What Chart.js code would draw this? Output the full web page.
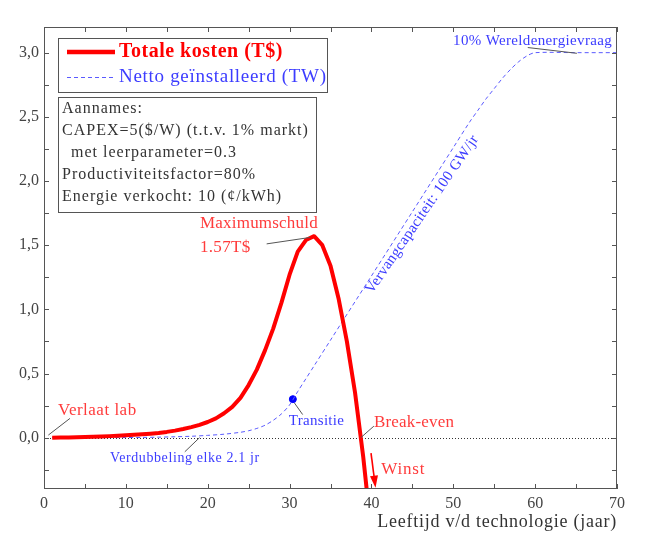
<!DOCTYPE html>
<html>
<head>
<meta charset="utf-8">
<script src="https://cdn.jsdelivr.net/npm/chart.js@4.4.1/dist/chart.umd.min.js"></script>
<style>
  html, body { margin: 0; padding: 0; background: #fff; }
  #wrap { width: 647px; height: 541px; }
</style>
</head>
<body>
<div id="wrap"><canvas id="grafiek" width="647" height="541"></canvas></div>
<script>
// totale kosten (T$) per jaar
const costYears  = [1, 2, 3, 4, 5, 6, 7, 8, 9, 10, 11, 12, 13, 14, 15, 16, 17, 18, 19, 20,
                    21, 22, 23, 24, 25, 26, 27, 28, 29, 30, 31, 32, 33, 34, 35, 36, 37, 38, 39, 40];
const costValues = [0, 0.001, 0.002, 0.003, 0.005, 0.007, 0.009, 0.012, 0.015, 0.018, 0.022, 0.026, 0.031, 0.037, 0.045, 0.055,
                    0.067, 0.082, 0.1, 0.122, 0.15, 0.19, 0.24, 0.31, 0.41, 0.53, 0.68, 0.85, 1.05, 1.27, 1.45, 1.54, 1.57,
                    1.5, 1.34, 1.08, 0.75, 0.35, -0.15, -0.75];

// netto geinstalleerd vermogen (TW)
const capYears  = [1, 5, 10, 12, 14, 16, 18, 20, 22, 24, 25, 26, 27, 28, 29, 30, 31, 32, 33, 35, 40, 45, 50, 52,
                   53, 54, 55, 56, 57, 58, 59, 60, 65, 70];
const capValues = [0, 0, 0.001, 0.002, 0.004, 0.007, 0.011, 0.018, 0.027, 0.042, 0.054, 0.072, 0.097, 0.135, 0.185,
                   0.255, 0.36, 0.46, 0.56, 0.76, 1.26, 1.76, 2.26, 2.46, 2.55, 2.64, 2.72, 2.8, 2.87, 2.93, 2.975, 3.0, 3.0, 3.0];

// transitiepunt
const transitionX = [30.4];
const transitionY = [0.30];

const xTickValues = [0, 10, 20, 30, 40, 50, 60, 70];
const yTickValues = [0, 0.5, 1, 1.5, 2, 2.5, 3];

const SERIF = '"Liberation Serif", "DejaVu Serif", serif';
const RED = '#ff0000';
const RED_TXT = '#ff3b3b';
const BLUE = '#5a5aff';
const BLUE_TXT = '#3c3cff';
const LEADER = '#555';

function toPoints(xs, ys) {
  return xs.map((x, i) => ({ x: x, y: ys[i] }));
}

const annotaties = {
  id: 'annotaties',
  beforeDatasetsDraw(chart) {
    const { ctx, chartArea: a, scales: { y } } = chart;
    ctx.save();
    // stippellijn op nul
    ctx.strokeStyle = '#333';
    ctx.lineWidth = 1;
    ctx.setLineDash([1, 2]);
    ctx.beginPath();
    ctx.moveTo(a.left, Math.round(y.getPixelForValue(0)) + 0.5);
    ctx.lineTo(a.right, Math.round(y.getPixelForValue(0)) + 0.5);
    ctx.stroke();
    ctx.restore();
  },
  afterDatasetsDraw(chart) {
    const { ctx, chartArea: a, scales: { x, y } } = chart;
    const px = v => x.getPixelForValue(v);
    const py = v => y.getPixelForValue(v);

    ctx.save();
    // kader en tickjes naar binnen
    ctx.strokeStyle = '#555';
    ctx.lineWidth = 1;
    ctx.strokeRect(a.left + 0.5, a.top + 0.5, a.right - a.left - 1, a.bottom - a.top - 1);
    ctx.beginPath();
    for (let v = 0; v <= 70; v += 5) {
      const xx = Math.round(px(v)) + 0.5;
      ctx.moveTo(xx, a.bottom); ctx.lineTo(xx, a.bottom - 5);
      ctx.moveTo(xx, a.top); ctx.lineTo(xx, a.top + 5);
    }
    for (let v = -0.25; v <= 3.2; v += 0.25) {
      const yy = Math.round(py(v)) + 0.5;
      ctx.moveTo(a.left, yy); ctx.lineTo(a.left + 5, yy);
      ctx.moveTo(a.right, yy); ctx.lineTo(a.right - 5, yy);
    }
    ctx.stroke();

    const line = (x1, y1, x2, y2) => {
      ctx.strokeStyle = LEADER;
      ctx.lineWidth = 1;
      ctx.beginPath();
      ctx.moveTo(px(x1), py(y1));
      ctx.lineTo(px(x2), py(y2));
      ctx.stroke();
    };
    const text = (s, xv, yv, color, size, spacing = 0, align = 'left') => {
      ctx.fillStyle = color;
      ctx.font = size + 'px ' + SERIF;
      ctx.letterSpacing = spacing + 'px';
      ctx.textAlign = align;
      ctx.textBaseline = 'middle';
      ctx.fillText(s, px(xv), py(yv));
      ctx.letterSpacing = '0px';
    };

    line(0.53, 0.02, 3.17, 0.15);
    text('Verlaat lab', 1.71, 0.21, RED_TXT, 17, 0.5);

    line(19.0, 0.0, 17.2, -0.11);
    text('Verdubbeling elke 2.1 jr', 8.06, -0.16, BLUE_TXT, 14, 0.6);

    line(30.6, 0.27, 31.6, 0.18);
    text('Transitie', 29.9, 0.13, BLUE_TXT, 15, 0.3);

    line(38.7, 0.0, 40.3, 0.09);
    text('Break-even', 40.3, 0.12, RED_TXT, 17, 0.2);

    line(27.2, 1.51, 32.5, 1.56);
    text('Maximumschuld', 19.06, 1.67, RED_TXT, 17, 0.2);
    text('1.57T$', 19.06, 1.48, RED_TXT, 17, 0.3);

    line(59.1, 3.04, 65.1, 2.995);
    text('10% Wereldenergievraag', 69.4, 3.09, BLUE_TXT, 15, 0.35, 'right');

    // winst-pijl
    ctx.strokeStyle = RED;
    ctx.fillStyle = RED;
    ctx.lineWidth = 1.6;
    const ax1 = px(39.95), ay1 = py(-0.12), ax2 = px(40.5), ay2 = py(-0.39);
    const ang = Math.atan2(ay2 - ay1, ax2 - ax1);
    ctx.beginPath();
    ctx.moveTo(ax1, ay1);
    ctx.lineTo(ax2 - 8 * Math.cos(ang), ay2 - 8 * Math.sin(ang));
    ctx.stroke();
    ctx.beginPath();
    ctx.moveTo(ax2, ay2);
    ctx.lineTo(ax2 - 12 * Math.cos(ang) + 4 * Math.sin(ang), ay2 - 12 * Math.sin(ang) - 4 * Math.cos(ang));
    ctx.lineTo(ax2 - 12 * Math.cos(ang) - 4 * Math.sin(ang), ay2 - 12 * Math.sin(ang) + 4 * Math.cos(ang));
    ctx.closePath();
    ctx.fill();
    text('Winst', 41.2, -0.25, RED_TXT, 17, 0.8);

    // schuine tekst langs de lijn
    ctx.save();
    ctx.translate(px(46.2), py(1.74));
    ctx.rotate(-55.5 * Math.PI / 180);
    ctx.fillStyle = BLUE_TXT;
    ctx.font = '15px ' + SERIF;
    ctx.letterSpacing = '0.3px';
    ctx.textAlign = 'center';
    ctx.textBaseline = 'middle';
    ctx.fillText('Vervangcapaciteit: 100 GW/jr', 0, 0);
    ctx.restore();

    // legenda
    const lx = a.left + 14, ly = a.top + 11;
    ctx.fillStyle = '#fff';
    ctx.fillRect(lx, ly, 269, 54);
    ctx.strokeStyle = '#555';
    ctx.lineWidth = 1;
    ctx.strokeRect(lx + 0.5, ly + 0.5, 269, 54);
    ctx.strokeStyle = RED;
    ctx.lineWidth = 4.5;
    ctx.beginPath();
    ctx.moveTo(lx + 9, ly + 14); ctx.lineTo(lx + 57, ly + 14);
    ctx.stroke();
    ctx.strokeStyle = BLUE;
    ctx.lineWidth = 1;
    ctx.setLineDash([4, 3]);
    ctx.beginPath();
    ctx.moveTo(lx + 9, ly + 39.5); ctx.lineTo(lx + 57, ly + 39.5);
    ctx.stroke();
    ctx.setLineDash([]);
    ctx.textAlign = 'left';
    ctx.textBaseline = 'middle';
    ctx.fillStyle = RED;
    ctx.font = 'bold 20px ' + SERIF;
    ctx.letterSpacing = '0.5px';
    ctx.fillText('Totale kosten (T$)', lx + 61, ly + 14);
    ctx.fillStyle = BLUE_TXT;
    ctx.font = '19px ' + SERIF;
    ctx.letterSpacing = '0.7px';
    ctx.fillText('Netto geïnstalleerd (TW)', lx + 61, ly + 39);

    // aannames
    const bx = a.left + 14, by = a.top + 70;
    ctx.fillStyle = '#fff';
    ctx.fillRect(bx, by, 258, 115);
    ctx.strokeStyle = '#555';
    ctx.strokeRect(bx + 0.5, by + 0.5, 258, 115);
    ctx.fillStyle = '#333';
    ctx.font = '16px ' + SERIF;
    ctx.letterSpacing = '1px';
    const regels = [
      ['Aannames:', 0],
      ['CAPEX=5($/W) (t.t.v. 1% markt)', 0],
      ['met leerparameter=0.3', 9],
      ['Productiviteitsfactor=80%', 0],
      ['Energie verkocht: 10 (¢/kWh)', 0]
    ];
    regels.forEach(([s, ind], i) => ctx.fillText(s, bx + 4 + ind, by + 12 + i * 22));

    // as-titel
    ctx.fillStyle = '#333';
    ctx.font = '18px ' + SERIF;
    ctx.letterSpacing = '0.75px';
    ctx.textAlign = 'right';
    ctx.fillText('Leeftijd v/d technologie (jaar)', a.right, 522);
    ctx.letterSpacing = '0px';
    ctx.restore();
  }
};

new Chart(document.getElementById('grafiek'), {
  type: 'line',
  data: {
    datasets: [
      {
        label: 'Totale kosten (T$)',
        data: toPoints(costYears, costValues),
        borderColor: RED,
        borderWidth: 4,
        pointRadius: 0,
        tension: 0,
        borderJoinStyle: 'round'
      },
      {
        label: 'Netto geïnstalleerd (TW)',
        data: toPoints(capYears, capValues),
        borderColor: BLUE,
        borderWidth: 1,
        borderDash: [4, 3],
        pointRadius: 0,
        tension: 0.3
      },
      {
        label: 'Transitie',
        data: toPoints(transitionX, transitionY),
        showLine: false,
        pointRadius: 3.5,
        pointBackgroundColor: '#0000ff',
        pointBorderColor: '#0000ff'
      }
    ]
  },
  options: {
    responsive: false,
    animation: false,
    devicePixelRatio: 1,
    layout: { padding: { top: 27, right: 30, left: 0, bottom: 0 } },
    plugins: { legend: { display: false }, tooltip: { enabled: false } },
    scales: {
      x: {
        type: 'linear',
        min: 0,
        max: 70,
        afterFit: s => { s.height = 52; },
        afterBuildTicks: s => { s.ticks = xTickValues.map(v => ({ value: v })); },
        grid: { display: false, drawTicks: false, tickLength: 0 },
        border: { display: false },
        ticks: {
          color: '#444',
          font: { family: SERIF, size: 16 },
          padding: 5,
          maxRotation: 0,
          autoSkip: false
        }
      },
      y: {
        min: -0.4,
        max: 3.2,
        afterFit: s => { s.width = 44; },
        afterBuildTicks: s => { s.ticks = yTickValues.map(v => ({ value: v })); },
        grid: { display: false, drawTicks: false, tickLength: 0 },
        border: { display: false },
        ticks: {
          color: '#444',
          font: { family: SERIF, size: 16 },
          padding: 5,
          callback: v => v.toFixed(1).replace('.', ',')
        }
      }
    }
  },
  plugins: [annotaties]
});
</script>
</body>
</html>
